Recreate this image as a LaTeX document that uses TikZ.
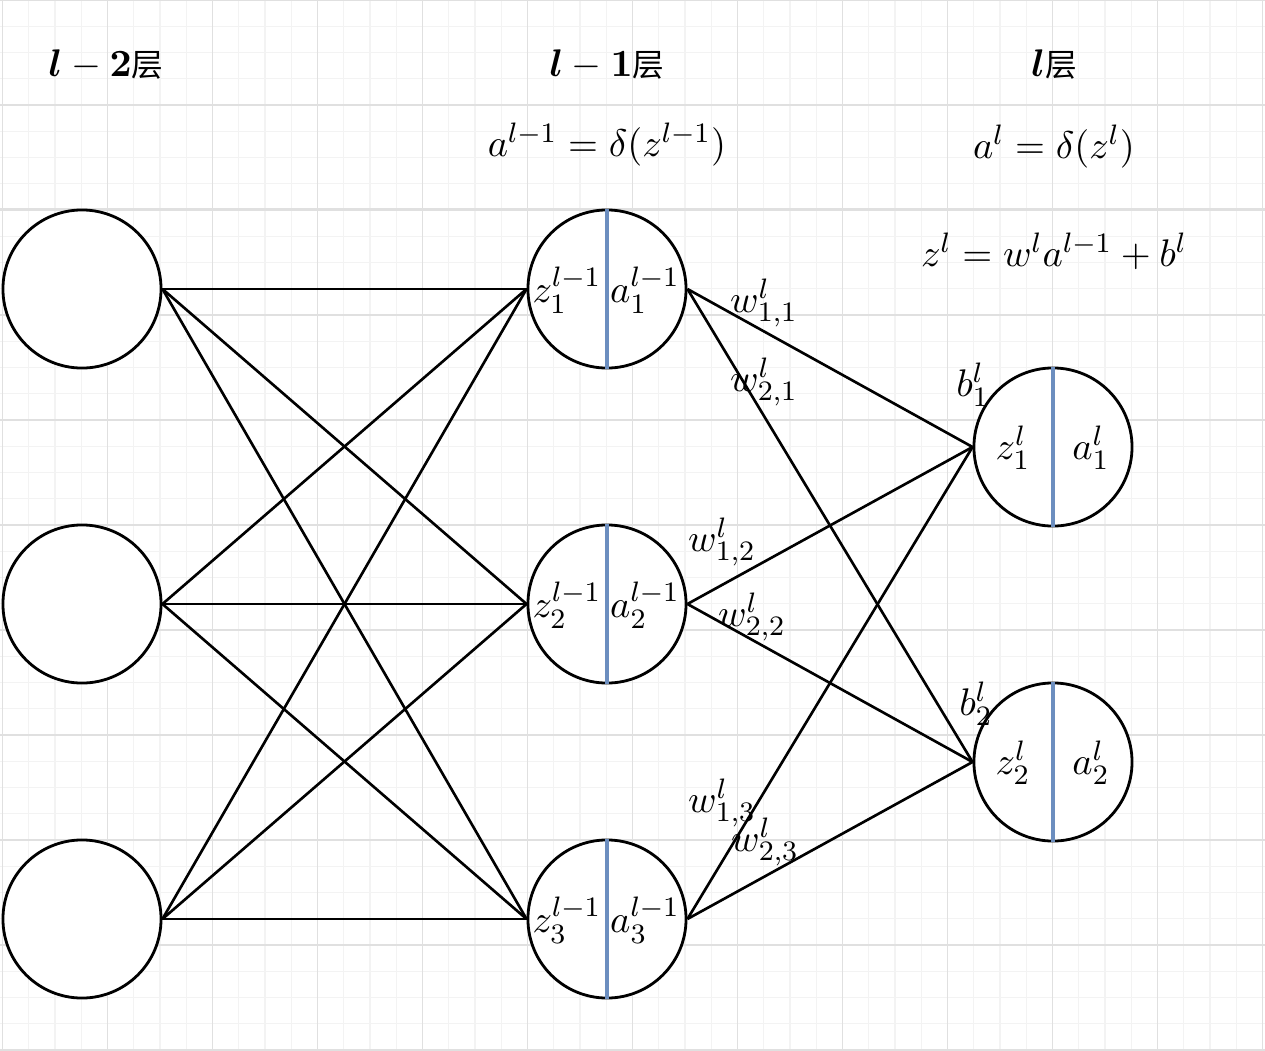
\documentclass[tikz,border=0pt]{standalone}
\usepackage{bm}
\usepackage{fontspec}
\newfontfamily\cjk{Noto Sans CJK SC}
\definecolor{splitblue}{HTML}{6C8EBF}
\definecolor{gridminor}{HTML}{F3F3F3}
\definecolor{gridmajor}{HTML}{E0E0E0}

\begin{document}
\begin{tikzpicture}[x=0.01cm,y=-0.01cm,
  neuron/.style={draw=black, line width=0.8pt, circle, fill=white, minimum size=1.58cm, inner sep=0pt},
  edge/.style={black, line width=0.75pt},
  split/.style={splitblue, line width=1pt},
  lbl/.style={font=\fontsize{11}{13}\selectfont, inner sep=0pt}]

\useasboundingbox (0,0) rectangle (1265,1051);

% grid
\foreach \i in {0,...,48} \draw[gridminor, line width=0.4pt] ({2.5+26.25*\i},0) -- ({2.5+26.25*\i},1051);
\foreach \i in {0,...,40} \draw[gridminor, line width=0.4pt] (0,{26.25*\i}) -- (1265,{26.25*\i});
\foreach \i in {0,...,12} \draw[gridmajor, line width=0.4pt] ({2.5+105*\i},0) -- ({2.5+105*\i},1051);
\foreach \i in {0,...,10} \draw[gridmajor, line width=0.4pt] (0,{105*\i}) -- (1265,{105*\i});
\draw[gridmajor, line width=0.8pt] (0,209.5) -- (1265,209.5);

% layer titles
\node[lbl] (t1) at (106,65) {$\bm{l}-\bm{2}${\cjk\fontsize{9}{10}\selectfont 层}};
\node[lbl] (t2) at (607,65) {$\bm{l}-\bm{1}${\cjk\fontsize{9}{10}\selectfont 层}};
\node[lbl] (t3) at (1054,65) {$\bm{l}${\cjk\fontsize{9}{10}\selectfont 层}};

\node[lbl] (f1) at (607,145) {$a^{l-1}=\delta(z^{l-1})$};
\node[lbl] (f2) at (1054,147) {$a^{l}=\delta(z^{l})$};
\node[lbl] (f3) at (1054,251) {$z^{l}=w^{l}a^{l-1}+b^{l}$};

% neurons
\node[neuron] (p1) at (82,289) {};
\node[neuron] (p2) at (82,604) {};
\node[neuron] (p3) at (82,919) {};

\node[neuron] (q1) at (607,289) {};
\node[neuron] (q2) at (607,604) {};
\node[neuron] (q3) at (607,919) {};

\node[neuron] (r1) at (1053,447) {};
\node[neuron] (r2) at (1053,762) {};

\draw[split] (q1.north) -- (q1.south);
\draw[split] (q2.north) -- (q2.south);
\draw[split] (q3.north) -- (q3.south);
\draw[split] (r1.north) -- (r1.south);
\draw[split] (r2.north) -- (r2.south);

\node[lbl] (q1z) at (567,290) {$z_1^{l-1}$};
\node[lbl] (q1a) at (645,290) {$a_1^{l-1}$};
\node[lbl] (q2z) at (567,605) {$z_2^{l-1}$};
\node[lbl] (q2a) at (645,605) {$a_2^{l-1}$};
\node[lbl] (q3z) at (567,920) {$z_3^{l-1}$};
\node[lbl] (q3a) at (645,920) {$a_3^{l-1}$};

\node[lbl] (r1z) at (1013,448) {$z_1^{l}$};
\node[lbl] (r1a) at (1091,448) {$a_1^{l}$};
\node[lbl] (r2z) at (1013,763) {$z_2^{l}$};
\node[lbl] (r2a) at (1091,763) {$a_2^{l}$};

% connections
\draw[edge] (p1.east) -- (q1.west);
\draw[edge] (p1.east) -- (q2.west);
\draw[edge] (p1.east) -- (q3.west);
\draw[edge] (p2.east) -- (q1.west);
\draw[edge] (p2.east) -- (q2.west);
\draw[edge] (p2.east) -- (q3.west);
\draw[edge] (p3.east) -- (q1.west);
\draw[edge] (p3.east) -- (q2.west);
\draw[edge] (p3.east) -- (q3.west);

\draw[edge] (q1.east) -- (r1.west);
\draw[edge] (q1.east) -- (r2.west);
\draw[edge] (q2.east) -- (r1.west);
\draw[edge] (q2.east) -- (r2.west);
\draw[edge] (q3.east) -- (r1.west);
\draw[edge] (q3.east) -- (r2.west);

% weights and biases
\node[lbl] (w11) at (764,303) {$w_{1,1}^{l}$};
\node[lbl] (w21) at (764,382) {$w_{2,1}^{l}$};
\node[lbl] (w12) at (722,542) {$w_{1,2}^{l}$};
\node[lbl] (w22) at (752,617) {$w_{2,2}^{l}$};
\node[lbl] (w13) at (722,803) {$w_{1,3}^{l}$};
\node[lbl] (w23) at (765,842) {$w_{2,3}^{l}$};
\node[lbl] (b1) at (973,385) {$b_1^{l}$};
\node[lbl] (b2) at (976,704) {$b_2^{l}$};

\end{tikzpicture}
\end{document}
